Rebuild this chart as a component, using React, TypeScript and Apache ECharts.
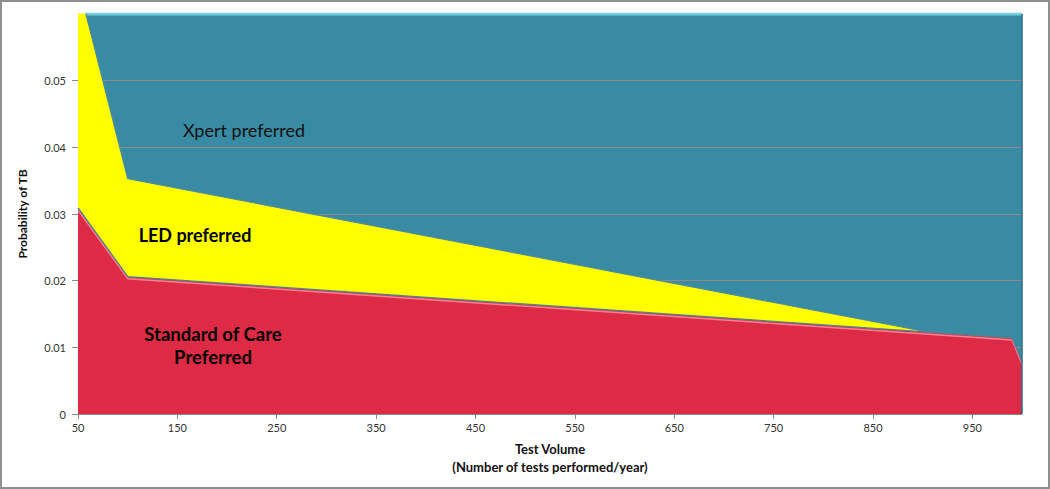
import React, { useEffect, useRef } from "react";
import * as echarts from "echarts";

// Boundary points (x = test volume, y = probability of TB)
const xpertTop: [number, number][] = [[58, 0.06], [1000, 0.06]];
const ledUpper: [number, number][] = [[50, 0.0647], [100, 0.0353], [905, 0.0123], [990, 0.0114], [1000, 0.0078]];
const socUpper: [number, number][] = [[50, 0.0309], [100, 0.0206], [990, 0.0114], [1000, 0.0078]];

const xTicks = [50, 150, 250, 350, 450, 550, 650, 750, 850, 950];
const yTicks = [0, 0.01, 0.02, 0.03, 0.04, 0.05];

const FONT = "Lato, 'Open Sans', sans-serif";

export default function App() {
  const ref = useRef<HTMLDivElement>(null);
  useEffect(() => {
    document.body.style.margin = "0";
    const chart = echarts.init(ref.current!, null, { renderer: "svg" });
    chart.setOption({
      animation: false,
      backgroundColor: "#ffffff",
      textStyle: { fontFamily: FONT },
      grid: { left: 78, right: 28, top: 14, bottom: 75 },
      xAxis: {
        type: "value",
        min: 50,
        max: 1000,
        interval: 100,
        name: "Test Volume\n(Number of tests performed/year)",
        nameLocation: "middle",
        nameGap: 26,
        nameTextStyle: { fontFamily: FONT, fontWeight: "bold", fontSize: 13, color: "#111", lineHeight: 18 },
        axisLine: { show: true, lineStyle: { color: "#8a8a8a", width: 1 } },
        axisTick: { show: true, length: 5, lineStyle: { color: "#8a8a8a" }, customValues: xTicks },
        axisLabel: { fontFamily: FONT, fontSize: 11, color: "#333", margin: 8, customValues: xTicks },
        splitLine: { show: false },
      },
      yAxis: {
        type: "value",
        min: 0,
        max: 0.06,
        interval: 0.01,
        name: "Probability of TB",
        nameLocation: "middle",
        nameGap: 50,
        nameTextStyle: { fontFamily: FONT, fontWeight: "bold", fontSize: 12, color: "#111" },
        axisLine: { show: true, lineStyle: { color: "#8a8a8a", width: 1 } },
        axisTick: { show: true, length: 6, lineStyle: { color: "#8a8a8a" }, customValues: yTicks },
        axisLabel: {
          fontFamily: FONT,
          fontSize: 11,
          color: "#333",
          margin: 12,
          customValues: yTicks,
          formatter: (v: number) => (v === 0 ? "0" : v.toFixed(2)),
        },
        splitLine: { show: true, lineStyle: { color: "#8c8c8c", width: 1 } },
      },
      series: [
        {
          name: "Xpert preferred",
          type: "line",
          data: xpertTop,
          z: -1,
          symbol: "none",
          lineStyle: { color: "#70cde2", width: 3 },
          areaStyle: { color: "#388ba3", opacity: 1 },
        },
        {
          name: "LED preferred",
          type: "line",
          data: ledUpper,
          z: 3,
          symbol: "none",
          lineStyle: { color: "#4f8c9c", width: 1.2 },
          areaStyle: { color: "#ffff00", opacity: 1 },
        },
        {
          name: "Standard of Care Preferred",
          type: "line",
          data: socUpper,
          z: 4,
          symbol: "none",
          lineStyle: {
            color: "#5b7c8c",
            width: 1.5,
            shadowColor: "rgba(255,130,150,0.95)",
            shadowOffsetY: 2,
            shadowBlur: 1,
          },
          areaStyle: { color: "#dd2b45", opacity: 1 },
        },
      ],
      graphic: [
        {
          type: "rect",
          shape: { x: 1, y: 1, width: 1048, height: 487 },
          style: { fill: "none", stroke: "#8f8f8f", lineWidth: 2 },
          z: 100,
        },
        {
          type: "line",
          shape: { x1: 1022, y1: 14, x2: 1022, y2: 414 },
          style: { stroke: "#2b6f82", lineWidth: 1.5 },
          z: 90,
        },
        {
          type: "text",
          x: 244,
          y: 130,
          style: {
            text: "Xpert preferred",
            fontFamily: FONT,
            fontSize: 18,
            fill: "#111",
            align: "center",
            verticalAlign: "middle",
          },
          z: 100,
        },
        {
          type: "text",
          x: 195,
          y: 235,
          style: {
            text: "LED preferred",
            fontFamily: FONT,
            fontSize: 18,
            fontWeight: "bold",
            fill: "#000",
            align: "center",
            verticalAlign: "middle",
          },
          z: 100,
        },
        {
          type: "text",
          x: 213,
          y: 345,
          style: {
            text: "Standard of Care\nPreferred",
            fontFamily: FONT,
            fontSize: 18.5,
            fontWeight: "bold",
            lineHeight: 23,
            fill: "#000",
            align: "center",
            verticalAlign: "middle",
          },
          z: 100,
        },
      ],
    });
    return () => chart.dispose();
  }, []);
  return <div ref={ref} style={{ width: 1050, height: 489 }} />;
}
